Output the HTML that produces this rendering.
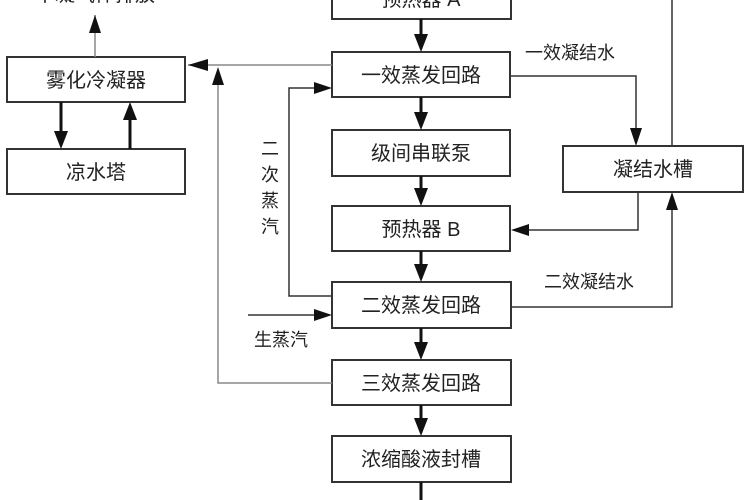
<!DOCTYPE html>
<html><head><meta charset="utf-8"><style>
html,body{margin:0;padding:0;background:#fff;}
svg{display:block}
text{font-family:"Liberation Sans","Noto Sans CJK SC",sans-serif;fill:#222;}
</style></head><body>
<svg width="750" height="500" viewBox="0 0 750 500">
<g fill="#fff" stroke="#333" stroke-width="2">
<rect x="332" y="-30" width="179" height="49"/>
<rect x="332" y="52" width="178" height="45"/>
<rect x="332" y="130" width="178" height="46"/>
<rect x="332" y="206" width="178" height="45"/>
<rect x="332" y="282" width="179" height="46"/>
<rect x="332" y="360" width="179" height="45"/>
<rect x="332" y="436" width="179" height="46"/>
<rect x="7" y="57" width="178" height="45"/>
<rect x="7" y="149" width="178" height="45"/>
<rect x="563" y="146" width="180" height="46"/>
</g>
<g font-size="20" text-anchor="middle">
<text x="421" y="6">预热器 A</text>
<text x="421" y="82">一效蒸发回路</text>
<text x="421" y="160">级间串联泵</text>
<text x="421" y="236">预热器 B</text>
<text x="421" y="312">二效蒸发回路</text>
<text x="421" y="390">三效蒸发回路</text>
<text x="421" y="466">浓缩酸液封槽</text>
<text x="96" y="87">雾化冷凝器</text>
<text x="96" y="179">凉水塔</text>
<text x="653" y="176">凝结水槽</text>
<text x="95" y="1">不凝气体排放</text>
</g>
<g font-size="18">
<text x="525" y="59">一效凝结水</text>
<text x="544" y="288">二效凝结水</text>
<text x="254" y="346">生蒸汽</text>
<text x="261" y="155">二</text>
<text x="261" y="181">次</text>
<text x="261" y="207">蒸</text>
<text x="261" y="233">汽</text>
</g>
<g stroke="#111" stroke-width="3" fill="none">
<line x1="421" y1="19" x2="421" y2="36"/>
<line x1="421" y1="97" x2="421" y2="114"/>
<line x1="421" y1="176" x2="421" y2="190"/>
<line x1="421" y1="251" x2="421" y2="266"/>
<line x1="421" y1="328" x2="421" y2="344"/>
<line x1="421" y1="405" x2="421" y2="420"/>
<line x1="421" y1="482" x2="421" y2="510"/>
<line x1="61" y1="102" x2="61" y2="133"/>
<line x1="130" y1="149" x2="130" y2="118"/>
</g>
<g fill="#111">
<path d="M421,52 L414,34 L428,34 z"/>
<path d="M421,130 L414,112 L428,112 z"/>
<path d="M421,206 L414,188 L428,188 z"/>
<path d="M421,282 L414,264 L428,264 z"/>
<path d="M421,360 L414,342 L428,342 z"/>
<path d="M421,436 L414,418 L428,418 z"/>
<path d="M61,149 L54,131 L68,131 z"/>
<path d="M130,102 L123,120 L137,120 z"/>
</g>
<g stroke="#888" stroke-width="1.5" fill="none">
<line x1="95" y1="57" x2="95" y2="15"/>
<polyline points="332,65 188,65"/>
<polyline points="332,383 218,383 218,70"/>
</g>
<path d="M95,15 L89,33 L101,33 z" fill="#111"/>
<path d="M188,65 L208,59 L208,71 z" fill="#111"/>
<path d="M218,67 L212,85 L224,85 z" fill="#111"/>
<g stroke="#333" stroke-width="1.5" fill="none">
<polyline points="332,296 289,296 289,88 315,88"/>
<polyline points="248,315 315,315"/>
<polyline points="510,76 636,76 636,130"/>
<polyline points="638,192 638,230 527,230"/>
<polyline points="672,146 672,0"/>
<polyline points="511,307 672,307 672,210"/>
</g>
<path d="M332,88 L314,82 L314,94 z" fill="#111"/>
<path d="M332,315 L314,309 L314,321 z" fill="#111"/>
<path d="M636,146 L630,128 L642,128 z" fill="#111"/>
<path d="M511,230 L529,224 L529,236 z" fill="#111"/>
<path d="M672,192 L666,210 L678,210 z" fill="#111"/>
</svg>
</body></html>
